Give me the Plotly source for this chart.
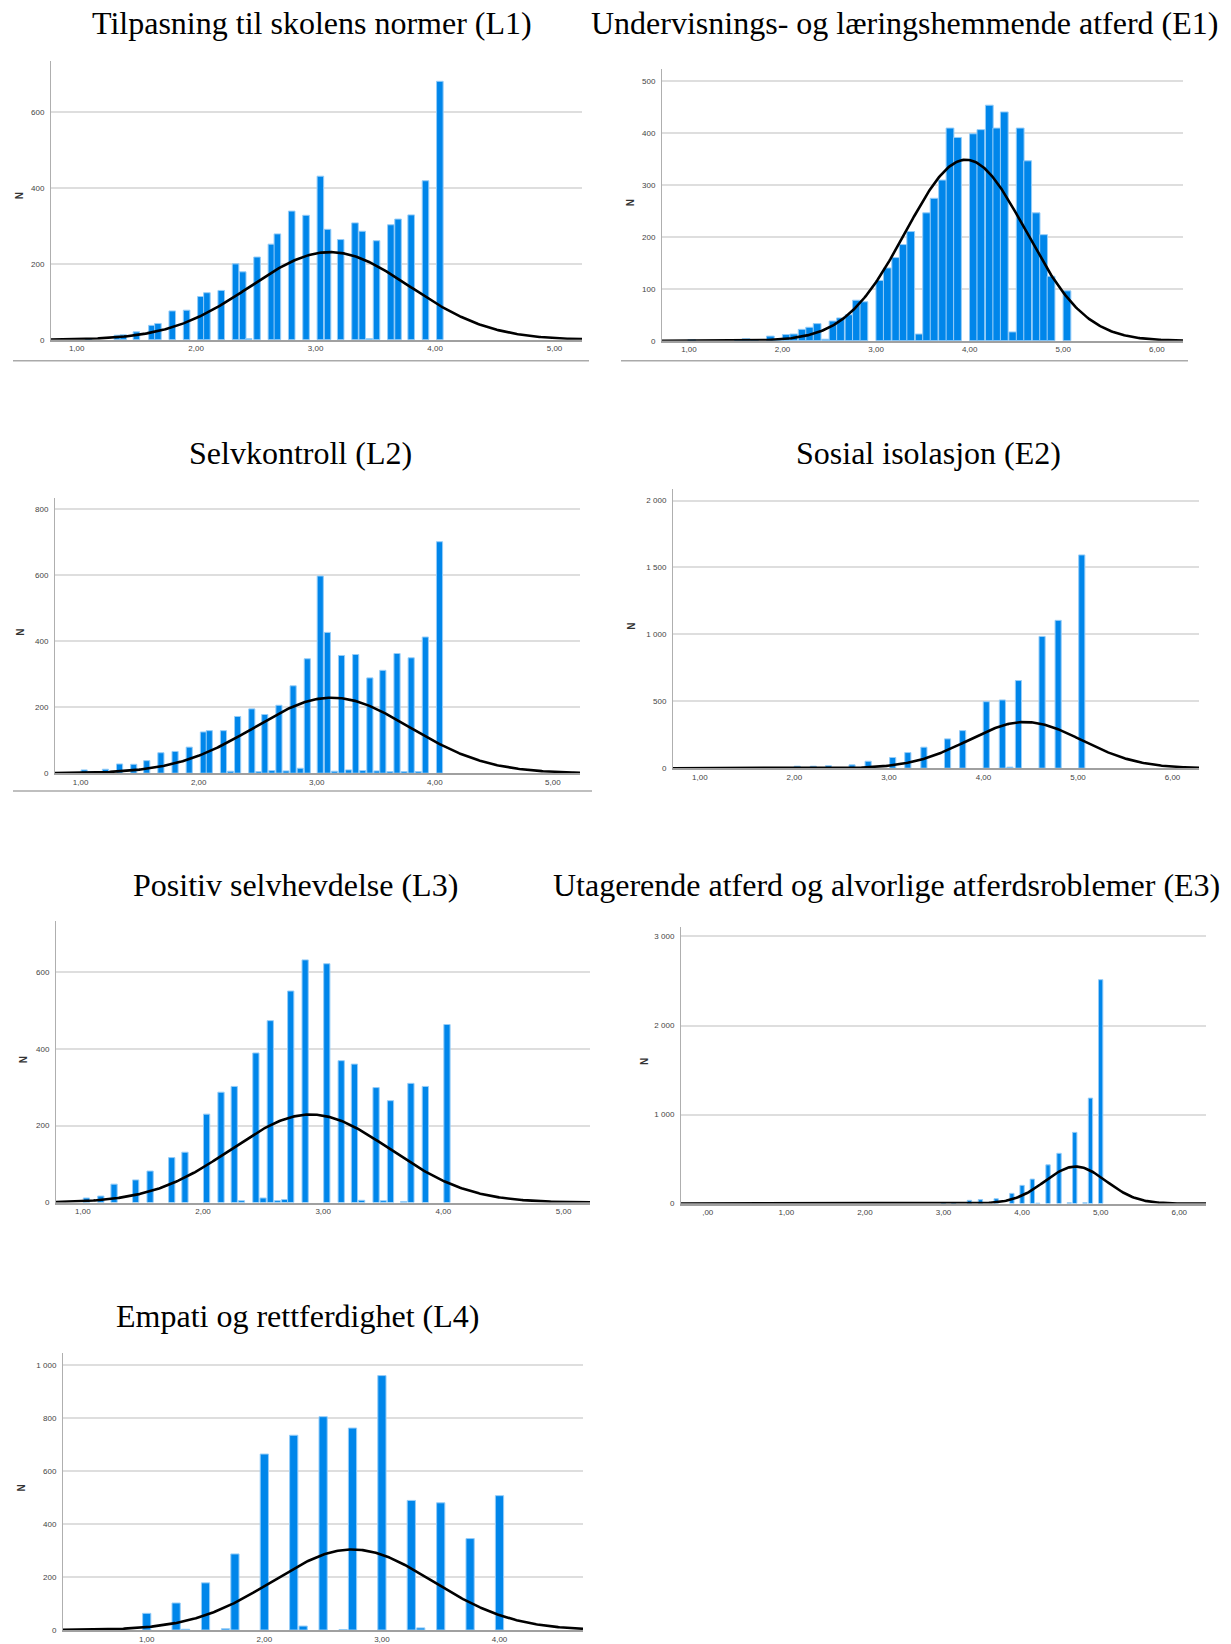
import numpy as np
import plotly.graph_objects as go

# page is 1231x1644; the browser's default 8px body margin offsets the figure
PAGE_W, PAGE_H = 1231, 1644
OFF = 8
FW, FH = PAGE_W - OFF, PAGE_H - OFF

# ---------------- data ----------------
titles = [
    "Tilpasning til skolens normer (L1)",
    "Undervisnings- og læringshemmende atferd (E1)",
    "Selvkontroll (L2)",
    "Sosial isolasjon (E2)",
    "Positiv selvhevdelse (L3)",
    "Utagerende atferd og alvorlige atferdsroblemer (E3)",
    "Empati og rettferdighet (L4)",
]

L1_x = [1.10, 1.34, 1.39, 1.50, 1.63, 1.68, 1.80, 1.92, 2.04, 2.09, 2.21, 2.33, 2.39, 2.44, 2.51, 2.63,
        2.68, 2.80, 2.92, 3.04, 3.10, 3.21, 3.33, 3.39, 3.45, 3.51, 3.63, 3.69, 3.80, 3.92, 4.04]
L1_n = [3, 12, 13, 21, 38, 43, 76, 78, 114, 124, 130, 200, 179, 3, 218, 252,
        279, 339, 328, 431, 291, 264, 308, 286, 3, 261, 303, 318, 329, 419, 681]

E1_x = [1.03, 1.53, 1.61, 1.70, 1.87, 1.95, 2.04, 2.12, 2.21, 2.29, 2.37, 2.46, 2.54, 2.62, 2.71, 2.79,
        2.87, 3.04, 3.12, 3.21, 3.29, 3.37, 3.46, 3.54, 3.62, 3.71, 3.79, 3.87, 4.04, 4.12, 4.21, 4.29,
        4.37, 4.46, 4.54, 4.62, 4.71, 4.79, 4.87, 5.04]
E1_n = [2, 2, 4, 2, 9, 2, 12, 13, 22, 26, 33, 3, 38, 44, 50, 78,
        75, 116, 140, 160, 185, 210, 13, 246, 274, 309, 409, 391, 398, 406, 453, 409,
        440, 17, 409, 346, 246, 204, 124, 96]

L2_x = [1.03, 1.09, 1.21, 1.33, 1.45, 1.56, 1.68, 1.80, 1.92, 2.04, 2.09, 2.21, 2.27, 2.33, 2.45, 2.51,
        2.56, 2.62, 2.68, 2.74, 2.80, 2.86, 2.92, 3.03, 3.09, 3.15, 3.21, 3.27, 3.33, 3.39, 3.45, 3.51,
        3.56, 3.62, 3.68, 3.74, 3.80, 3.86, 3.92, 4.04]
L2_n = [10, 5, 12, 28, 27, 38, 62, 66, 79, 125, 129, 129, 6, 172, 195, 5,
        178, 8, 206, 7, 265, 15, 347, 598, 427, 6, 357, 10, 360, 8, 289, 7,
        312, 5, 363, 5, 350, 5, 413, 702]

E2_x = [1.02, 1.77, 2.03, 2.20, 2.36, 2.61, 2.78, 3.04, 3.20, 3.37, 3.62, 3.78, 4.03, 4.20, 4.28, 4.37,
        4.62, 4.79, 5.04]
E2_n = [3, 5, 15, 15, 18, 25, 52, 80, 117, 157, 219, 281, 497, 510, 8, 655,
        985, 1105, 1594]

L3_x = [1.03, 1.15, 1.26, 1.44, 1.56, 1.74, 1.85, 2.03, 2.15, 2.26, 2.32, 2.44, 2.50, 2.56, 2.62, 2.68,
        2.73, 2.85, 3.03, 3.15, 3.26, 3.32, 3.44, 3.50, 3.56, 3.67, 3.73, 3.85, 4.03]
L3_n = [12, 17, 48, 59, 82, 117, 131, 230, 287, 302, 5, 389, 12, 473, 5, 8,
        550, 631, 621, 369, 360, 6, 299, 5, 265, 3, 310, 302, 463]

E3_x = [3.00, 3.13, 3.33, 3.47, 3.67, 3.87, 4.00, 4.13, 4.20, 4.33, 4.47, 4.60, 4.67, 4.80, 4.87, 5.00]
E3_n = [12, 10, 37, 45, 55, 115, 205, 275, 5, 435, 565, 10, 800, 10, 1185, 2515]

L4_x = [1.00, 1.25, 1.33, 1.50, 1.67, 1.75, 2.00, 2.25, 2.33, 2.50, 2.67, 2.75, 3.00, 3.25, 3.33, 3.50,
        3.75, 4.00]
L4_n = [63, 102, 3, 178, 5, 287, 664, 735, 15, 805, 2, 762, 960, 489, 8, 480,
        345, 507]

# fitted normal curves: mean, sd, peak height
curve_mean = [3.12, 3.96, 3.13, 4.44, 2.895, 4.68, 2.75]
curve_sd = [0.67, 0.64, 0.66, 0.60, 0.66, 0.39, 0.68]
curve_peak = [231, 348, 229, 345, 229, 416, 304]

x_ticks = [[1, 2, 3, 4, 5], [1, 2, 3, 4, 5, 6], [1, 2, 3, 4, 5], [1, 2, 3, 4, 5, 6],
           [1, 2, 3, 4, 5], [0, 1, 2, 3, 4, 5, 6], [1, 2, 3, 4]]
y_ticks = [[0, 200, 400, 600], [0, 100, 200, 300, 400, 500], [0, 200, 400, 600, 800],
           [0, 500, 1000, 1500, 2000], [0, 200, 400, 600], [0, 1000, 2000, 3000],
           [0, 200, 400, 600, 800, 1000]]

xs = [L1_x, E1_x, L2_x, E2_x, L3_x, E3_x, L4_x]
ns = [L1_n, E1_n, L2_n, E2_n, L3_n, E3_n, L4_n]

# ---------------- layout / style (page pixels) ----------------
boxes = [
    (51, 582, 61, 341),
    (662, 1183, 69, 342),
    (55, 580, 500, 776),
    (673, 1199, 491, 771),
    (56, 590, 924, 1207),
    (681, 1206, 930, 1208),
    (63, 583, 1358, 1636),
]
x_ranges = [[0.785, 5.23], [0.712, 6.28], [0.783, 5.23], [0.716, 6.28],
            [0.777, 5.22], [-0.34, 6.34], [0.288, 4.71]]
y_ranges = [[0, 735], [0, 523], [0, 834], [0, 2085], [0, 733], [0, 3111], [0, 1045]]
bar_w = [0.055, 0.083, 0.052, 0.065, 0.052, 0.055, 0.07]
title_pos = [(312, 23), (904, 23), (300, 455), (928, 455), (295, 888), (886, 888), (297, 1321)]
n_pos = [(19, 197), (630, 204), (21, 635), (632, 629), (23, 1064), (644, 1065), (22, 1494)]
separators = [(13, 589, 362), (621, 1188, 362), (13, 592, 794)]

BAR = "rgb(0,134,234)"
BAR_EDGE = "rgb(150,205,248)"
GRID = "rgb(222,222,222)"


def px(x):
    return (x - OFF) / FW


def py(y):
    return 1 - (y - OFF) / FH


def fmt_x(v):
    return ",00" if v == 0 else f"{v},00"


def fmt_y(v):
    return f"{v:,}".replace(",", " ")


fig = go.Figure()
layout = dict(
    width=FW, height=FH, margin=dict(l=0, r=0, t=0, b=0),
    paper_bgcolor="white", plot_bgcolor="white", showlegend=False,
    annotations=[], shapes=[],
)

for i in range(7):
    k = "" if i == 0 else str(i + 1)
    x0, x1, yt, yb = boxes[i]
    fig.add_trace(go.Bar(
        x=xs[i], y=ns[i], width=bar_w[i],
        marker=dict(color=BAR, line=dict(color=BAR_EDGE, width=1)),
        xaxis="x" + k, yaxis="y" + k, hoverinfo="x+y",
    ))
    cx = np.linspace(x_ranges[i][0], x_ranges[i][1], 400)
    cy = curve_peak[i] * np.exp(-0.5 * ((cx - curve_mean[i]) / curve_sd[i]) ** 2)
    fig.add_trace(go.Scatter(
        x=cx, y=cy, mode="lines", line=dict(color="black", width=2.6),
        xaxis="x" + k, yaxis="y" + k, hoverinfo="skip",
    ))
    layout["xaxis" + k] = dict(
        domain=[px(x0), px(x1)], range=x_ranges[i], anchor="y" + k,
        tickvals=x_ticks[i], ticktext=[fmt_x(v) for v in x_ticks[i]],
        showgrid=False, zeroline=False, showline=True, linecolor="rgb(160,160,160)",
        linewidth=2, ticks="", tickfont=dict(family="Liberation Sans", size=8, color="#444"),
        ticklabelstandoff=0, fixedrange=True,
    )
    layout["yaxis" + k] = dict(
        domain=[py(yb), py(yt)], range=y_ranges[i], anchor="x" + k,
        tickvals=y_ticks[i], ticktext=[fmt_y(v) for v in y_ticks[i]],
        showgrid=True, gridcolor=GRID, gridwidth=1.5, zeroline=False,
        showline=True, linecolor="rgb(175,175,175)", linewidth=1, ticks="",
        tickfont=dict(family="Liberation Sans", size=8, color="#444"),
        ticklabelstandoff=4, fixedrange=True,
    )
    tx, ty = title_pos[i]
    layout["annotations"].append(dict(
        text=titles[i], x=px(tx), y=py(ty), xref="paper", yref="paper",
        xanchor="center", yanchor="middle", showarrow=False,
        font=dict(family="Liberation Serif", size=32, color="black"),
    ))
    nx, ny = n_pos[i]
    layout["annotations"].append(dict(
        text="<b>N</b>", x=px(nx), y=py(ny), xref="paper", yref="paper",
        xanchor="center", yanchor="middle", showarrow=False, textangle=-90,
        font=dict(family="Liberation Sans", size=10, color="#333"),
    ))

for (a, b, y) in separators:
    layout["shapes"].append(dict(
        type="line", xref="paper", yref="paper", x0=px(a), x1=px(b), y0=py(y), y1=py(y),
        line=dict(color="rgb(170,170,170)", width=1.5),
    ))

fig.update_layout(**layout)
fig.write_html("out.html")
